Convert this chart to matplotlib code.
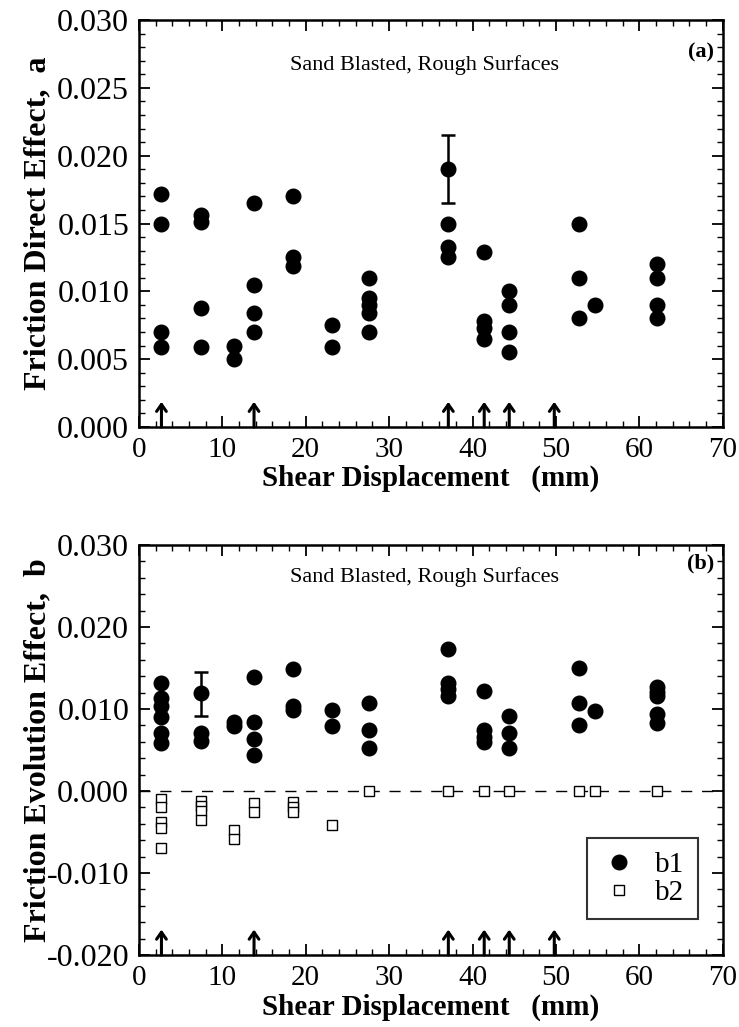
import numpy as np
import matplotlib
matplotlib.use("Agg")
import matplotlib.pyplot as plt
from matplotlib.ticker import MultipleLocator, FormatStrFormatter

plt.rcParams['font.family'] = ['Liberation Serif', 'DejaVu Serif']

# shear displacement of each measurement group (mm)
disp = [2.7, 7.5, 11.4, 13.8, 18.5, 23.1, 27.6, 37.1, 41.4, 44.4, 52.8, 54.7, 62.1]

# friction direct effect a, per displacement group
a_vals = [
    [0.0172, 0.0150, 0.0070, 0.0059],
    [0.0156, 0.0151, 0.0088, 0.0059],
    [0.0060, 0.0050],
    [0.0165, 0.0105, 0.0084, 0.0070],
    [0.0170, 0.0125, 0.0119],
    [0.0075, 0.0059],
    [0.0110, 0.0095, 0.0090, 0.0084, 0.0070],
    [0.0190, 0.0150, 0.0133, 0.0125],
    [0.0129, 0.0078, 0.0073, 0.0065],
    [0.0100, 0.0090, 0.0070, 0.0055],
    [0.0150, 0.0110, 0.0080],
    [0.0090],
    [0.0120, 0.0110, 0.0090, 0.0080],
]

# friction evolution effect b1, per displacement group
b1_vals = [
    [0.0132, 0.0114, 0.0104, 0.0090, 0.0071, 0.0059],
    [0.0120, 0.0071, 0.0061],
    [0.0084, 0.0079],
    [0.0139, 0.0084, 0.0063, 0.0044],
    [0.0149, 0.0104, 0.0099],
    [0.0099, 0.0079],
    [0.0107, 0.0074, 0.0052],
    [0.0173, 0.0132, 0.0124, 0.0116],
    [0.0122, 0.0075, 0.0066, 0.0060],
    [0.0091, 0.0071, 0.0053],
    [0.0150, 0.0107, 0.0081],
    [0.0098],
    [0.0127, 0.0121, 0.0116, 0.0094, 0.0083],
]

# friction evolution effect b2, per displacement group
b2_vals = [
    [-0.0010, -0.0020, -0.0038, -0.0045, -0.0070],
    [-0.0012, -0.0018, -0.0024, -0.0035],
    [-0.0047, -0.0058],
    [-0.0015, -0.0026],
    [-0.0014, -0.0020, -0.0026],
    [-0.0041],
    [0.0],
    [0.0],
    [0.0],
    [0.0],
    [0.0],
    [0.0],
    [0.0],
]

# error bars (x, value, lower end, upper end)
a_err = (37.1, 0.0190, 0.0165, 0.0215)
b_err = (7.5, 0.0120, 0.0091, 0.0145)

# displacements marked with arrows
arrow_x = [2.7, 13.8, 37.1, 41.4, 44.4, 49.8]


def flatten(groups):
    xs, ys = [], []
    for x, vals in zip(disp, groups):
        for v in vals:
            xs.append(x)
            ys.append(v)
    return xs, ys


def style_axes(ax, ymajor, yminor):
    ax.set_xlim(0, 70)
    ax.xaxis.set_major_locator(MultipleLocator(10))
    ax.xaxis.set_minor_locator(MultipleLocator(2))
    ax.yaxis.set_major_locator(MultipleLocator(ymajor))
    ax.yaxis.set_minor_locator(MultipleLocator(yminor))
    ax.yaxis.set_major_formatter(FormatStrFormatter('%.3f'))
    ax.tick_params(which='both', direction='in', top=True, right=True, pad=7)
    ax.tick_params(axis='x', labelsize=21)
    ax.tick_params(axis='y', labelsize=23)
    ax.tick_params(which='major', length=8, width=1.3)
    ax.tick_params(which='minor', length=4, width=1.0)
    for s in ax.spines.values():
        s.set_linewidth(1.8)
    ax.set_xlabel('Shear Displacement   (mm)', fontsize=21, fontweight='bold')
    for x in arrow_x:
        ax.annotate('', xy=(x, 0.062), xytext=(x, 0.0),
                    xycoords=('data', 'axes fraction'),
                    textcoords=('data', 'axes fraction'),
                    arrowprops=dict(arrowstyle='->,head_length=0.5,head_width=0.35',
                                    lw=2.2, color='black', shrinkA=0, shrinkB=0))


fig = plt.figure(figsize=(7.39, 10.27), dpi=100)

# panel (a)
ax1 = fig.add_axes([0.188, 0.5842, 0.790, 0.3963])
xa, ya = flatten(a_vals)
ax1.plot(xa, ya, 'o', color='black', markersize=10.5, zorder=3)
ax1.errorbar([a_err[0]], [a_err[1]],
             yerr=[[a_err[1] - a_err[2]], [a_err[3] - a_err[1]]],
             fmt='none', ecolor='black', elinewidth=1.8, capsize=5, capthick=1.8)
ax1.set_ylim(0, 0.030)
style_axes(ax1, 0.005, 0.001)
ax1.set_ylabel('Friction Direct Effect,  a', fontsize=23, fontweight='bold')
ax1.yaxis.set_label_coords(-0.148, 0.5)
ax1.xaxis.set_label_coords(0.5, -0.092)
ax1.text(0.49, 0.89, 'Sand Blasted, Rough Surfaces', transform=ax1.transAxes,
         ha='center', va='center', fontsize=16)
ax1.text(0.985, 0.92, '(a)', transform=ax1.transAxes,
         ha='right', va='center', fontsize=16, fontweight='bold')

# panel (b)
ax2 = fig.add_axes([0.188, 0.0701, 0.790, 0.3992])
ax2.axhline(0, color='black', lw=1.0, ls=(0, (8, 7)), zorder=1)
xb1, yb1 = flatten(b1_vals)
xb2, yb2 = flatten(b2_vals)
ax2.plot(xb1, yb1, 'o', color='black', markersize=10.5, zorder=3, label='b1')
ax2.plot(xb2, yb2, 's', markerfacecolor='white', markeredgecolor='black',
         markeredgewidth=1.0, markersize=6.5, zorder=3, label='b2')
ax2.errorbar([b_err[0]], [b_err[1]],
             yerr=[[b_err[1] - b_err[2]], [b_err[3] - b_err[1]]],
             fmt='none', ecolor='black', elinewidth=1.8, capsize=5, capthick=1.8)
ax2.set_ylim(-0.020, 0.030)
style_axes(ax2, 0.010, 0.002)
ax2.set_ylabel('Friction Evolution Effect,  b', fontsize=23, fontweight='bold')
ax2.yaxis.set_label_coords(-0.148, 0.5)
ax2.xaxis.set_label_coords(0.5, -0.095)
ax2.text(0.49, 0.922, 'Sand Blasted, Rough Surfaces', transform=ax2.transAxes,
         ha='center', va='center', fontsize=16)
ax2.text(0.985, 0.954, '(b)', transform=ax2.transAxes,
         ha='right', va='center', fontsize=16, fontweight='bold')
leg = ax2.legend(loc='lower right', bbox_to_anchor=(0.957, 0.088), fontsize=21,
                 frameon=True, fancybox=False, edgecolor='black',
                 borderaxespad=0, handletextpad=0.6, borderpad=0.45,
                 labelspacing=0.05, handlelength=1.3, markerfirst=True)
leg.get_frame().set_linewidth(1.5)

fig.savefig('out.png', dpi=100)
